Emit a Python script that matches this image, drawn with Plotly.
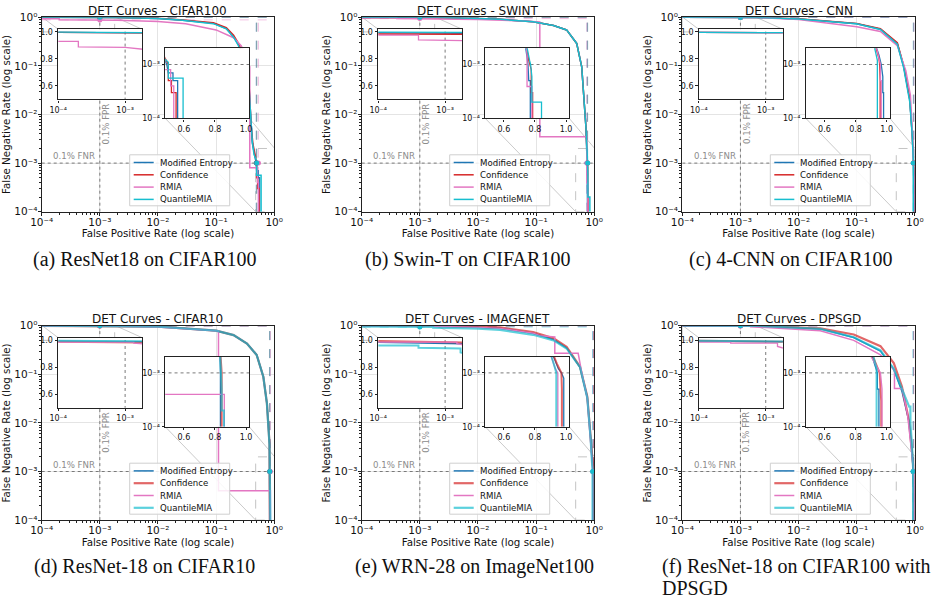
import math
import plotly.graph_objects as go

# ---------------- data ----------------
METHODS = ["Modified Entropy", "Confidence", "RMIA", "QuantileMIA"]
COLORS = ["#1f77b4", "#d62728", "#e377c2", "#17becf"]
PANEL_TITLES = ["DET Curves - CIFAR100", "DET Curves - SWINT", "DET Curves - CNN",
                "DET Curves - CIFAR10", "DET Curves - IMAGENET", "DET Curves - DPSGD"]
CAPTIONS = ["(a) ResNet18 on CIFAR100", "(b) Swin-T on CIFAR100", "(c) 4-CNN on CIFAR100",
            "(d) ResNet-18 on CIFAR10", "(e) WRN-28 on ImageNet100",
            "(f) ResNet-18 on CIFAR100 with", "DPSGD"]
THRESHOLD = 1e-3
MAIN_TICKS = [1e-4, 1e-3, 1e-2, 1e-1, 1]
MAIN_TICK_TEXT = ["10⁻⁴", "10⁻³", "10⁻²", "10⁻¹", "10⁰"]
INSET1_XTICKS = [1e-4, 1e-3]
INSET1_XTEXT = ["10⁻⁴", "10⁻³"]
INSET1_YTICKS = [0.6, 0.8, 1.0]
INSET2_XTICKS = [0.6, 0.8, 1.0]
INSET2_YTICKS = [1e-4, 1e-3]
INSET2_YTEXT = ["10⁻⁴", "10⁻³"]
ZOOM1_X = [1e-4, 1.8e-3]
ZOOM1_Y = [0.5, 1.02]
ZOOM2_X = [0.48, 1.02]
ZOOM2_Y = [1e-4, 2e-3]

# (a) ResNet18 / CIFAR100
A_ME_FPR = [1e-4, 1e-3, 2e-3, 1e-2, 0.024, 0.09, 0.15, 0.2, 0.243, 0.3, 0.36, 0.38, 0.4, 0.42, 0.49, 0.5, 0.53, 0.53, 0.56, 0.56]
A_ME_FNR = [0.997, 0.995, 0.993, 0.95, 0.88, 0.75, 0.59, 0.4, 0.27, 0.15, 0.07, 0.02, 0.006, 0.0026, 0.001, 7e-4, 7e-4, 5e-4, 5e-4, 1e-4]
A_CONF_FPR = [1e-4, 1e-3, 2e-3, 1e-2, 0.024, 0.09, 0.15, 0.2, 0.243, 0.3, 0.36, 0.38, 0.4, 0.43, 0.5, 0.5, 0.52, 0.52, 0.55, 0.55]
A_CONF_FNR = [0.997, 0.995, 0.993, 0.955, 0.89, 0.77, 0.61, 0.43, 0.29, 0.16, 0.075, 0.022, 0.006, 0.0025, 0.001, 5e-4, 5e-4, 3e-4, 3e-4, 1e-4]
A_RMIA_FPR = [1e-4, 2e-4, 2e-4, 1e-3, 2e-3, 1e-2, 0.03, 0.1, 0.2, 0.27, 0.3, 0.36, 0.38, 0.38, 0.515, 0.515, 0.535, 0.535]
A_RMIA_FNR = [0.93, 0.93, 0.89, 0.885, 0.87, 0.82, 0.74, 0.55, 0.38, 0.26, 0.2, 0.1, 0.096, 8e-4, 8e-4, 4e-4, 4e-4, 1e-4]
A_QMIA_FPR = [1e-4, 1e-3, 2e-3, 1e-2, 0.024, 0.09, 0.15, 0.2, 0.243, 0.3, 0.36, 0.38, 0.4, 0.42, 0.45, 0.5, 0.5, 0.595, 0.595]
A_QMIA_FNR = [0.999, 0.997, 0.995, 0.95, 0.88, 0.74, 0.58, 0.39, 0.26, 0.14, 0.065, 0.018, 0.006, 0.0028, 0.0015, 0.0011, 5.6e-4, 5.6e-4, 1e-4]
A_FPR_AT_01FNR = [0.49, 0.5, 0.535, 0.5]
A_FNR_AT_01FPR = [0.995, 0.995, 0.885, 0.997]

# (b) Swin-T / CIFAR100
B_ME_FPR = [1e-4, 1e-3, 2e-3, 1e-2, 0.024, 0.089, 0.2, 0.335, 0.5, 0.61, 0.665, 0.72, 0.755, 0.76, 0.77, 0.77]
B_ME_FNR = [0.995, 0.993, 0.99, 0.95, 0.91, 0.81, 0.68, 0.55, 0.29, 0.096, 0.027, 0.0056, 0.001, 5e-4, 5e-4, 1e-4]
B_CONF_FPR = [1e-4, 1e-3, 2e-3, 1e-2, 0.024, 0.089, 0.2, 0.335, 0.5, 0.61, 0.665, 0.72, 0.76, 0.776, 0.776, 0.785, 0.785]
B_CONF_FNR = [0.985, 0.985, 0.983, 0.95, 0.91, 0.81, 0.68, 0.55, 0.29, 0.096, 0.027, 0.0056, 0.0012, 8e-4, 3e-4, 3e-4, 1e-4]
B_RMIA_FPR = [1e-4, 4e-4, 4e-4, 2e-3, 1e-2, 0.05, 0.116, 0.116, 0.74, 0.749, 0.749, 0.78, 0.78]
B_RMIA_FNR = [0.977, 0.977, 0.942, 0.935, 0.9, 0.85, 0.8, 0.0035, 0.0035, 0.0015, 3.9e-4, 3.9e-4, 1e-4]
B_QMIA_FPR = [1e-4, 1e-3, 2e-3, 1e-2, 0.024, 0.089, 0.2, 0.335, 0.5, 0.61, 0.665, 0.72, 0.765, 0.772, 0.78, 0.78, 0.842, 0.842]
B_QMIA_FNR = [0.999, 0.998, 0.997, 0.95, 0.91, 0.81, 0.68, 0.55, 0.29, 0.096, 0.027, 0.0056, 0.0012, 0.001, 6e-4, 2e-4, 2e-4, 1e-4]
B_FPR_AT_01FNR = [0.755, 0.765, 0.749, 0.772]
B_FNR_AT_01FPR = [0.993, 0.985, 0.94, 0.998]

# (c) 4-CNN / CIFAR100
C_ME_FPR = [1e-4, 1e-3, 2e-3, 1e-2, 0.1, 0.256, 0.5, 0.645, 0.82, 0.9, 0.95, 0.965, 0.975, 0.975, 0.98, 0.98]
C_ME_FNR = [0.997, 0.996, 0.995, 0.92, 0.74, 0.57, 0.29, 0.097, 0.02, 0.0041, 0.0015, 0.001, 6e-4, 3e-4, 3e-4, 1e-4]
C_CONF_FPR = [1e-4, 1e-3, 2e-3, 1e-2, 0.1, 0.256, 0.5, 0.645, 0.82, 0.9, 0.95, 0.955, 0.958, 0.958]
C_CONF_FNR = [0.997, 0.996, 0.995, 0.93, 0.75, 0.58, 0.3, 0.1, 0.021, 0.0042, 0.0013, 0.001, 5e-4, 1e-4]
C_RMIA_FPR = [1e-4, 1e-3, 2e-3, 1e-2, 0.1, 0.256, 0.5, 0.7, 0.84, 0.91, 0.96, 0.96, 0.965, 0.965]
C_RMIA_FNR = [0.997, 0.996, 0.994, 0.9, 0.64, 0.51, 0.26, 0.08, 0.025, 0.004, 0.001, 5e-4, 5e-4, 1e-4]
C_QMIA_FPR = [1e-4, 1e-3, 2e-3, 1e-2, 0.1, 0.256, 0.5, 0.645, 0.82, 0.9, 0.94, 0.94]
C_QMIA_FNR = [0.997, 0.996, 0.995, 0.92, 0.74, 0.56, 0.28, 0.09, 0.018, 0.004, 0.0012, 1e-4]
C_FPR_AT_01FNR = [0.965, 0.955, 0.96, 0.94]
C_FNR_AT_01FPR = [0.996, 0.996, 0.996, 0.996]

# (d) ResNet-18 / CIFAR10
D_ME_FPR = [1e-4, 1e-3, 2e-3, 1e-2, 0.1, 0.2, 0.34, 0.5, 0.65, 0.75, 0.83, 0.835, 0.835]
D_ME_FNR = [0.995, 0.993, 0.99, 0.96, 0.79, 0.64, 0.43, 0.25, 0.089, 0.025, 0.0037, 0.001, 1e-4]
D_CONF_FPR = [1e-4, 1e-3, 2e-3, 1e-2, 0.1, 0.2, 0.34, 0.5, 0.65, 0.75, 0.83, 0.843, 0.843]
D_CONF_FNR = [0.99, 0.988, 0.985, 0.96, 0.79, 0.64, 0.43, 0.25, 0.089, 0.025, 0.0038, 0.001, 1e-4]
D_RMIA_FPR = [1e-4, 1.35e-3, 1.35e-3, 1e-2, 0.09, 0.11, 0.11, 0.86, 0.86]
D_RMIA_FNR = [0.987, 0.987, 0.98, 0.94, 0.79, 0.78, 4e-4, 4e-4, 1e-4]
D_QMIA_FPR = [1e-4, 1e-3, 2e-3, 1e-2, 0.1, 0.2, 0.34, 0.5, 0.65, 0.75, 0.83, 0.84, 0.843, 0.843, 0.858, 0.858]
D_QMIA_FNR = [0.997, 0.995, 0.993, 0.96, 0.79, 0.64, 0.43, 0.25, 0.089, 0.025, 0.0036, 0.001, 5e-4, 2e-4, 2e-4, 1e-4]
D_FPR_AT_01FNR = [0.835, 0.843, 0.86, 0.84]
D_FNR_AT_01FPR = [0.993, 0.988, 0.987, 0.995]

# (e) WRN-28 / ImageNet100
E_ME_FPR = [1e-4, 1e-3, 2e-3, 1e-2, 0.024, 0.089, 0.2, 0.335, 0.57, 0.76, 0.865, 0.95, 0.97, 0.985, 0.985]
E_ME_FNR = [0.985, 0.98, 0.975, 0.93, 0.89, 0.7, 0.52, 0.35, 0.14, 0.034, 0.005, 0.0012, 0.001, 8e-4, 1e-4]
E_CONF_FPR = [1e-4, 1e-3, 2e-3, 1e-2, 0.024, 0.089, 0.2, 0.335, 0.57, 0.76, 0.865, 0.94, 0.97, 0.973, 0.973]
E_CONF_FNR = [0.995, 0.99, 0.985, 0.95, 0.92, 0.74, 0.55, 0.37, 0.144, 0.035, 0.0052, 0.0015, 0.001, 5e-4, 1e-4]
E_RMIA_FPR = [1e-4, 1.5e-3, 1.5e-3, 1e-2, 0.024, 0.089, 0.116, 0.21, 0.21, 0.53, 0.6, 0.76, 0.86, 0.93, 0.947, 0.947]
E_RMIA_FNR = [0.987, 0.987, 0.975, 0.92, 0.88, 0.7, 0.62, 0.59, 0.27, 0.27, 0.12, 0.032, 0.005, 0.0012, 0.001, 1e-4]
E_QMIA_FPR = [1e-4, 4e-4, 4e-4, 1.7e-3, 1.7e-3, 1e-2, 0.024, 0.089, 0.2, 0.335, 0.57, 0.76, 0.865, 0.93, 0.937, 0.937]
E_QMIA_FNR = [0.962, 0.962, 0.945, 0.94, 0.91, 0.87, 0.82, 0.65, 0.5, 0.34, 0.14, 0.033, 0.005, 0.0012, 0.001, 1e-4]
E_FPR_AT_01FNR = [0.97, 0.97, 0.947, 0.937]
E_FNR_AT_01FPR = [0.98, 0.99, 0.987, 0.94]

# (f) ResNet-18 / CIFAR100 with DPSGD
F_ME_FPR = [1e-4, 2e-3, 0.0237, 0.089, 0.257, 0.435, 0.6, 0.79, 0.9, 0.935, 0.94, 0.94, 0.95, 0.95]
F_ME_FNR = [0.995, 0.99, 0.86, 0.57, 0.3, 0.125, 0.045, 0.011, 0.0023, 0.0012, 0.001, 5e-4, 5e-4, 1e-4]
F_CONF_FPR = [1e-4, 1e-3, 2e-3, 0.0237, 0.089, 0.257, 0.435, 0.6, 0.79, 0.9, 0.955, 0.96, 0.965, 0.965]
F_CONF_FNR = [0.997, 0.995, 0.99, 0.88, 0.66, 0.38, 0.17, 0.056, 0.0115, 0.0024, 0.001, 5e-4, 3e-4, 1e-4]
F_RMIA_FPR = [1e-4, 3e-4, 3e-4, 1.5e-3, 1.5e-3, 0.0237, 0.089, 0.257, 0.447, 0.447, 0.605, 0.75, 0.9, 0.96, 0.97, 0.97]
F_RMIA_FNR = [0.9875, 0.9875, 0.98, 0.98, 0.955, 0.79, 0.5, 0.25, 0.12, 0.051, 0.051, 0.015, 0.002, 0.001, 5e-4, 1e-4]
F_QMIA_FPR = [1e-4, 2e-3, 0.0237, 0.089, 0.257, 0.435, 0.6, 0.8, 0.84, 0.84, 0.9, 0.935, 0.935]
F_QMIA_FNR = [0.998, 0.992, 0.86, 0.58, 0.31, 0.13, 0.05, 0.0216, 0.0216, 0.0098, 0.003, 0.0012, 1e-4]
F_FPR_AT_01FNR = [0.94, 0.955, 0.96, 0.935]
F_FNR_AT_01FPR = [0.995, 0.995, 0.98, 0.997]

PANELS = [
    dict(curves=[(A_ME_FPR, A_ME_FNR), (A_CONF_FPR, A_CONF_FNR), (A_RMIA_FPR, A_RMIA_FNR), (A_QMIA_FPR, A_QMIA_FNR)],
         fpr01=A_FPR_AT_01FNR, fnr01=A_FNR_AT_01FPR),
    dict(curves=[(B_ME_FPR, B_ME_FNR), (B_CONF_FPR, B_CONF_FNR), (B_RMIA_FPR, B_RMIA_FNR), (B_QMIA_FPR, B_QMIA_FNR)],
         fpr01=B_FPR_AT_01FNR, fnr01=B_FNR_AT_01FPR),
    dict(curves=[(C_ME_FPR, C_ME_FNR), (C_CONF_FPR, C_CONF_FNR), (C_RMIA_FPR, C_RMIA_FNR), (C_QMIA_FPR, C_QMIA_FNR)],
         fpr01=C_FPR_AT_01FNR, fnr01=C_FNR_AT_01FPR),
    dict(curves=[(D_ME_FPR, D_ME_FNR), (D_CONF_FPR, D_CONF_FNR), (D_RMIA_FPR, D_RMIA_FNR), (D_QMIA_FPR, D_QMIA_FNR)],
         fpr01=D_FPR_AT_01FNR, fnr01=D_FNR_AT_01FPR),
    dict(curves=[(E_ME_FPR, E_ME_FNR), (E_CONF_FPR, E_CONF_FNR), (E_RMIA_FPR, E_RMIA_FNR), (E_QMIA_FPR, E_QMIA_FNR)],
         fpr01=E_FPR_AT_01FNR, fnr01=E_FNR_AT_01FPR),
    dict(curves=[(F_ME_FPR, F_ME_FNR), (F_CONF_FPR, F_CONF_FNR), (F_RMIA_FPR, F_RMIA_FNR), (F_QMIA_FPR, F_QMIA_FNR)],
         fpr01=F_FPR_AT_01FNR, fnr01=F_FNR_AT_01FPR),
]

# ---------------- layout geometry (pixels) ----------------
W, H = 939, 601
COL_LEFT = [41.7, 361.7, 682.3]
ROW_TOP = [17.3, 325.7]
AX_W, AX_H = 232.5, 194.4
IN1 = (16.5, 12.0, 84.0, 70.0)   # dx, dy, w, h relative to main axes
IN2 = (123.5, 31.0, 84.0, 70.0)
LEG = dict(x0=88, x1=188, y0=137.5, y1=188.5, line0=92, line1=112, text=116,
           rows=[145.2, 157.5, 169.8, 182.1])
CAPTION_POS = [(144.5, 259, "center"), (467.5, 259, "center"), (790.5, 259, "center"),
               (144.5, 566, "center"), (474, 566, "center"), (660, 566, "left"), (660, 588, "left")]
FONT = "DejaVu Sans"
SERIF = "Liberation Serif"
GRID = "#e4e4e4"
FRAME = "#222222"
THR_COLOR = "#7a7a7a"
ZOOM_COLOR = "#c4c4c4"
MINOR_MAIN = [m * 10.0 ** e for e in range(-4, 0) for m in range(2, 10)]


def fx(px):
    return px / W


def fy(py):
    return 1 - py / H


def axn(kind, i):
    return f"{kind}axis" if i == 1 else f"{kind}axis{i}"


def ref(kind, i):
    return kind if i == 1 else f"{kind}{i}"


def base_axis(domain, anchor, size):
    return dict(domain=domain, anchor=anchor, showline=True, linecolor=FRAME, linewidth=1.4,
                mirror=True, ticks="outside", ticklen=3, tickwidth=1, tickcolor=FRAME,
                tickfont=dict(family=FONT, size=size, color="#111"), automargin=False,
                zeroline=False, showgrid=False, tickmode="array")


def main_data_from_px(dx, dy):
    return 10 ** (-4 + 4 * dx / AX_W), 10 ** (-4 * dy / AX_H)


def style_for(row, k):
    # bottom-row Confidence / QuantileMIA curves are drawn thicker and lighter
    if row == 1 and k in (1, 3):
        return 2.2, 0.7
    return 1.5, 1.0


fig = go.Figure()
layout = dict(width=W, height=H, margin=dict(l=0, r=0, t=0, b=0), paper_bgcolor="white",
              plot_bgcolor="white", showlegend=False, annotations=[], shapes=[])

for p, panel in enumerate(PANELS):
    col, row = p % 3, p // 3
    L, T = COL_LEFT[col], ROW_TOP[row]
    m, i1, i2 = 3 * p + 1, 3 * p + 2, 3 * p + 3

    # ---- axes ----
    xa = base_axis([fx(L), fx(L + AX_W)], ref("y", m), 10.5)
    xa.update(type="log", range=[-4, 0], tickvals=MAIN_TICKS, ticktext=MAIN_TICK_TEXT,
              showgrid=True, gridcolor=GRID, gridwidth=1, ticklabelstandoff=-3,
              minor=dict(tickmode="array", tickvals=MINOR_MAIN, ticks="outside", ticklen=2,
                         tickcolor=FRAME, showgrid=False),
              title=dict(text="False Positive Rate (log scale)", standoff=0,
                         font=dict(family=FONT, size=10.3, color="#111")))
    ya = base_axis([fy(T + AX_H), fy(T)], ref("x", m), 10.5)
    ya.update(type="log", range=[-4, 0], tickvals=MAIN_TICKS, ticktext=MAIN_TICK_TEXT,
              showgrid=True, gridcolor=GRID, gridwidth=1, ticklabelstandoff=-2,
              minor=dict(tickmode="array", tickvals=MINOR_MAIN, ticks="outside", ticklen=2,
                         tickcolor=FRAME, showgrid=False),
              title=dict(text="False Negative Rate (log scale)", standoff=1,
                         font=dict(family=FONT, size=10.3, color="#111")))
    layout[axn("x", m)] = xa
    layout[axn("y", m)] = ya

    dx, dy, w, h = IN1
    x1 = base_axis([fx(L + dx), fx(L + dx + w)], ref("y", i1), 8)
    x1.update(type="log", range=[math.log10(ZOOM1_X[0]), math.log10(ZOOM1_X[1])],
              tickvals=INSET1_XTICKS, ticktext=INSET1_XTEXT, ticklen=2.5)
    y1 = base_axis([fy(T + dy + h), fy(T + dy)], ref("x", i1), 8)
    y1.update(type="linear", range=ZOOM1_Y, tickvals=INSET1_YTICKS,
              ticktext=[f"{v:.1f}" for v in INSET1_YTICKS], ticklen=2.5)
    layout[axn("x", i1)] = x1
    layout[axn("y", i1)] = y1

    dx, dy, w, h = IN2
    x2 = base_axis([fx(L + dx), fx(L + dx + w)], ref("y", i2), 8)
    x2.update(type="linear", range=ZOOM2_X, tickvals=INSET2_XTICKS,
              ticktext=[f"{v:.1f}" for v in INSET2_XTICKS], ticklen=2.5)
    y2 = base_axis([fy(T + dy + h), fy(T + dy)], ref("x", i2), 8)
    y2.update(type="log", range=[math.log10(ZOOM2_Y[0]), math.log10(ZOOM2_Y[1])],
              tickvals=INSET2_YTICKS, ticktext=INSET2_YTEXT, ticklen=2.5)
    layout[axn("x", i2)] = x2
    layout[axn("y", i2)] = y2

    # ---- main-axes decorations ----
    mx, my = ref("x", m), ref("y", m)
    thr = dict(color=THR_COLOR, width=1, dash="dot")
    fig.add_trace(go.Scatter(x=[1e-4, 1], y=[THRESHOLD, THRESHOLD], mode="lines", line=thr,
                             xaxis=mx, yaxis=my, hoverinfo="skip"))
    fig.add_trace(go.Scatter(x=[THRESHOLD, THRESHOLD], y=[1e-4, 1], mode="lines", line=thr,
                             xaxis=mx, yaxis=my, hoverinfo="skip"))

    # zoom rectangles + connectors
    rx = [ZOOM1_X[0], ZOOM1_X[1], ZOOM1_X[1], ZOOM1_X[0], ZOOM1_X[0], None,
          ZOOM2_X[0], ZOOM2_X[1], ZOOM2_X[1], ZOOM2_X[0], ZOOM2_X[0]]
    ry = [ZOOM1_Y[0], ZOOM1_Y[0], ZOOM1_Y[1], ZOOM1_Y[1], ZOOM1_Y[0], None,
          ZOOM2_Y[0], ZOOM2_Y[0], ZOOM2_Y[1], ZOOM2_Y[1], ZOOM2_Y[0]]
    fig.add_trace(go.Scatter(x=rx, y=ry, mode="lines", line=dict(color=ZOOM_COLOR, width=1, dash="dash"),
                             xaxis=mx, yaxis=my, hoverinfo="skip"))
    c1tl = main_data_from_px(IN1[0], IN1[1])
    c1tr = main_data_from_px(IN1[0] + IN1[2], IN1[1])
    c2bl = main_data_from_px(IN2[0], IN2[1] + IN2[3])
    c2br = main_data_from_px(IN2[0] + IN2[2], IN2[1] + IN2[3])
    cx = [ZOOM1_X[0], c1tl[0], None, ZOOM1_X[1], c1tr[0], None,
          c2bl[0], ZOOM2_X[0], None, c2br[0], ZOOM2_X[1]]
    cy = [ZOOM1_Y[1], c1tl[1], None, ZOOM1_Y[1], c1tr[1], None,
          c2bl[1], ZOOM2_Y[0], None, c2br[1], ZOOM2_Y[1]]
    fig.add_trace(go.Scatter(x=cx, y=cy, mode="lines", line=dict(color=ZOOM_COLOR, width=0.9),
                             xaxis=mx, yaxis=my, hoverinfo="skip"))

    # per-method 0.1% reference lines (dashed)
    for k in range(4):
        fig.add_trace(go.Scatter(x=[panel["fpr01"][k]] * 2, y=[1e-4, 1], mode="lines",
                                 line=dict(color=COLORS[k], width=1, dash="dash"), opacity=0.45,
                                 xaxis=mx, yaxis=my, hoverinfo="skip"))
        fig.add_trace(go.Scatter(x=[1e-4, 1], y=[panel["fnr01"][k]] * 2, mode="lines",
                                 line=dict(color=COLORS[k], width=1, dash="dash"), opacity=0.45,
                                 xaxis=mx, yaxis=my, hoverinfo="skip"))

    # curves in main
    for k, (fpr, fnr) in enumerate(panel["curves"]):
        lw, op = style_for(row, k)
        fig.add_trace(go.Scatter(x=fpr, y=fnr, mode="lines", name=METHODS[k],
                                 line=dict(color=COLORS[k], width=lw), opacity=op,
                                 xaxis=mx, yaxis=my))
    # markers at the 0.1% operating points
    for k in range(4):
        fig.add_trace(go.Scatter(x=[THRESHOLD, panel["fpr01"][k]], y=[panel["fnr01"][k], THRESHOLD],
                                 mode="markers", marker=dict(color=COLORS[k], size=5),
                                 xaxis=mx, yaxis=my, hoverinfo="skip"))

    # ---- insets (white panel first so the main curves are hidden below) ----
    for ii, zx, zy in ((i1, ZOOM1_X, ZOOM1_Y), (i2, ZOOM2_X, ZOOM2_Y)):
        ix, iy = ref("x", ii), ref("y", ii)
        fig.add_trace(go.Scatter(x=[zx[0], zx[1], zx[1], zx[0], zx[0]],
                                 y=[zy[0], zy[0], zy[1], zy[1], zy[0]],
                                 mode="lines", fill="toself", fillcolor="white",
                                 line=dict(width=0, color="white"),
                                 xaxis=ix, yaxis=iy, hoverinfo="skip"))
        fig.add_trace(go.Scatter(x=[1e-4, 2], y=[THRESHOLD, THRESHOLD], mode="lines", line=thr,
                                 xaxis=ix, yaxis=iy, hoverinfo="skip"))
        fig.add_trace(go.Scatter(x=[THRESHOLD, THRESHOLD], y=[1e-4, 2], mode="lines", line=thr,
                                 xaxis=ix, yaxis=iy, hoverinfo="skip"))
        for k, (fpr, fnr) in enumerate(panel["curves"]):
            lw, op = style_for(row, k)
            fig.add_trace(go.Scatter(x=fpr, y=fnr, mode="lines", name=METHODS[k],
                                     line=dict(color=COLORS[k], width=lw - 0.2), opacity=op,
                                     xaxis=ix, yaxis=iy, hoverinfo="skip"))

    # ---- legend box (drawn above the curves) ----
    shapes = layout["shapes"]
    ann = layout["annotations"]
    shapes.append(dict(type="rect", xref="paper", yref="paper", layer="above",
                       x0=fx(L + LEG["x0"]), x1=fx(L + LEG["x1"]),
                       y0=fy(T + LEG["y1"]), y1=fy(T + LEG["y0"]),
                       fillcolor="rgba(255,255,255,0.85)", line=dict(color="#cfcfcf", width=1)))
    for k in range(4):
        lw, op = style_for(row, k)
        yy = fy(T + LEG["rows"][k])
        shapes.append(dict(type="line", xref="paper", yref="paper", layer="above",
                           x0=fx(L + LEG["line0"]), x1=fx(L + LEG["line1"]), y0=yy, y1=yy,
                           opacity=op, line=dict(color=COLORS[k], width=lw)))
        ann.append(dict(x=fx(L + LEG["text"]), y=yy, xref="paper", yref="paper", text=METHODS[k],
                        showarrow=False, xanchor="left", yanchor="middle",
                        font=dict(family=FONT, size=8.6, color="#111")))

    # ---- texts ----
    ann.append(dict(x=fx(L + AX_W / 2), y=fy(T - 6.5), xref="paper", yref="paper", text=PANEL_TITLES[p],
                    showarrow=False, xanchor="center", yanchor="middle",
                    font=dict(family=FONT, size=12, color="#111")))
    ann.append(dict(x=math.log10(3.6e-4), y=math.log10(THRESHOLD), xref=mx, yref=my, text="0.1% FNR",
                    showarrow=False, xanchor="center", yanchor="bottom", yshift=0,
                    font=dict(family=FONT, size=8.6, color="#8c8c8c")))
    ann.append(dict(x=math.log10(THRESHOLD), y=math.log10(6.5e-3), xref=mx, yref=my, text="0.1% FPR",
                    showarrow=False, xanchor="center", yanchor="middle", textangle=-90, xshift=6,
                    font=dict(family=FONT, size=8.6, color="#8c8c8c")))

for ci, (cxp, cyp, al) in enumerate(CAPTION_POS):
    layout["annotations"].append(dict(x=fx(cxp), y=fy(cyp), xref="paper", yref="paper",
                                      text=CAPTIONS[ci], showarrow=False, xanchor=al, yanchor="middle",
                                      font=dict(family=SERIF, size=20, color="#111")))

fig.update_layout(layout)
fig.write_html("out.html")
